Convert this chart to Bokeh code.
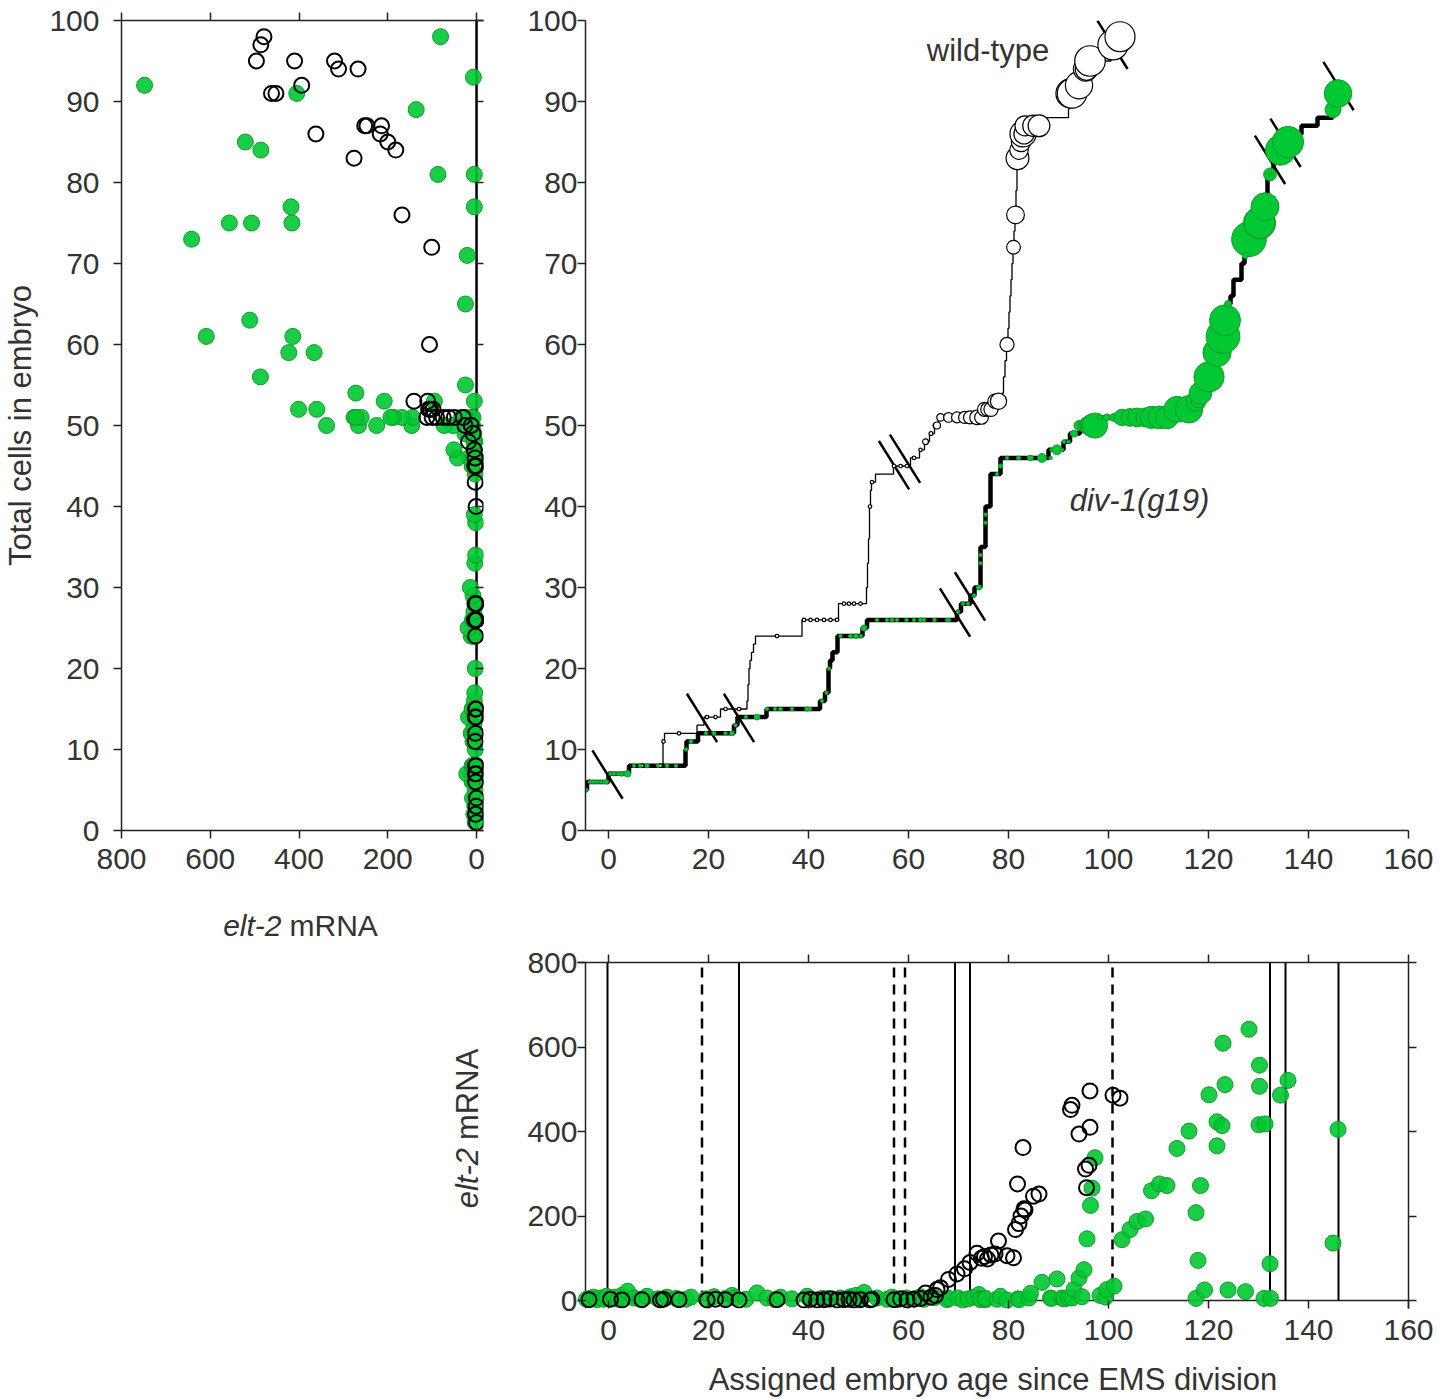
import math
import numpy as np
from bokeh.plotting import figure
from bokeh.models import Range1d, LinearAxis, FixedTicker, Span, Label, ColumnDataSource
from bokeh.layouts import row, column
from bokeh.embed import file_html
from bokeh.resources import INLINE

nan = float("nan")

# ---------------- data ----------------
# wild-type embryos: assigned age, total cells, elt-2 mRNA (nan age = not placed on time axis)
wt_age = [nan, nan, nan, nan, -3.9, 0.4, 2.7, 6.7, 10.4, 11.0, 14.1, 19.7, 21.4, 23.4, 26.1,
          33.7, 39.1, 40.4, 41.7, 43.1, 44.4, 45.7, 47.1, 48.1, 49.1, 50.4, 52.3, 52.7,
          57.1, 58.4, 59.7, 61.1, 62.4, 63.4, 64.5, 65.4, 65.7, 66.4, 68.0, 69.7, 71.2,
          72.3, 73.7, 74.6, 75.2, 75.8, 76.5, 77.3, 78.0, 79.7, 81.0, 81.4, 81.8, 82.1,
          82.5, 82.9, 83.1, 83.3, 85.0, 86.1, 92.4, 92.7, 94.1, 95.4, 95.6, 96.1, 96.3,
          96.3, 100.9, 102.3]
wt_cells = [1, 2, 3, 4, 6, 7, 7, 8, 8, 11, 12, 14, 14, 15, 15,
            24, 26, 26, 26, 26, 26, 26, 28, 28, 28, 28, 40, 43,
            45, 45, 45, 46, 47, 48, 49, 50, 50, 51, 51, 51, 51,
            51, 51, 51, 52, 52, 52, 53, 53, 60, 72, 76, 83, 84,
            85, 86, 86, 87, 87, 87, 91, 91, 92, 94, 94, 95, 95,
            95, 97, 98]
wt_mrna = [0, 2, 1, 0, 2, 3, 1, 2, 1, 3, 2, 1, 3, 2, 1,
           2, 1, 3, 1, 2, 4, 1, 2, 3, 1, 2, 1, 3,
           2, 4, 1, 3, 5, 18, 8, 12, 26, 30, 50, 63, 75,
           90, 112, 100, 104, 98, 108, 110, 141, 106, 101, 168, 276, 182,
           200, 362, 217, 214, 247, 252, 452, 462, 394, 311, 267, 320, 410,
           496, 486, 479]

# div-1(g19) embryos
dv_age = [nan, nan, nan, nan, nan, nan, -4.4, -3.6, -3.0, -2.3, -1.6, -0.9, -0.4, 0.4, 1.1,
          1.9, 2.6, 3.2, 3.8, 5.1, 6.3, 7.7, 9.9, 11.7, 13.5, 15.5, 16.5, 19.5, 21.1,
          23.4, 24.7, 25.4, 27.5, 29.7, 31.7, 33.3, 34.4, 36.7, 39.7, 40.3, 42.7, 43.6,
          44.1, 46.4, 48.4, 49.5, 50.5, 51.1, 53.7, 55.7, 56.7, 57.7, 59.6, 61.1, 62.4,
          63.1, 65.2, 67.7, 68.1, 69.9, 70.9, 71.9, 73.1, 74.1, 74.4, 74.4, 75.4, 75.4,
          77.7, 78.4, 79.7, 81.9, 82.1, 84.1, 84.4, 86.7, 88.4, 88.6, 89.7, 90.7, 91.1,
          92.0, 92.7, 93.1, 94.1, 94.7, 95.1, 95.7, 96.4, 96.7, 97.3, 98.3, 99.4, 99.7,
          101.1, 102.7, 104.3, 105.7, 107.4, 108.6, 110.2, 111.7, 113.7, 116.1, 117.5,
          117.5, 117.9, 118.4, 119.2, 120.1, 121.7, 121.7, 122.7, 122.9, 123.3, 123.9,
          128.1, 127.4, 130.1, 130.2, 130.2, 131.1, 131.3, 132.3, 132.4, 134.4, 135.9,
          144.9, 145.9, nan, nan, nan]
dv_cells = [1, 2, 2, 3, 4, 4, 5, 6, 6, 6, 6, 6, 6, 7, 7,
            7, 7, 7, 7, 8, 8, 8, 8, 8, 8, 10, 11, 12, 12,
            12, 12, 13, 14, 14, 15, 15, 15, 15, 15, 15, 16, 17,
            20, 24, 24, 24, 24, 25, 26, 26, 26, 26, 26, 26, 26,
            26, 26, 26, 26, 27, 28, 28, 29, 30, 33, 34, 38, 39,
            44, 45, 46, 46, 46, 46, 46, 46, 46, 47, 47, 47, 48,
            48, 49, 49, 50, 50, 50, 50, 50, 50, 50, 51, 51, 51,
            51, 51, 51, 51, 51, 51, 51, 51, 52, 52, 53,
            53, 53, 54, 55, 56, 59, 59, 61, 61, 63, 65,
            73, 71, 75, 75, 75, 77, 77, 81, 81, 84, 85,
            89, 91, 98, 93, 92]
dv_mrna = [3, 6, 1, 4, 9, 2, 3, 5, 8, 2, 6, 3, 10, 4, 8,
           3, 12, 5, 22, 6, 3, 10, 4, 8, 5, 3, 8, 4, 9,
           5, 12, 6, 3, 18, 6, 2, 8, 4, 10, 3, 5, 4,
           3, 6, 9, 12, 5, 19, 6, 3, 8, 2, 6, 4, 9,
           3, 7, 2, 5, 6, 1, 4, 8, 14, 4, 2, 2, 5,
           3, 10, 1, 4, 2, 6, 17, 43, 6, 5, 51, 6, 4,
           6, 6, 26, 53, 9, 73, 146, 225, 266, 338, 12, 8, 26,
           34, 144, 168, 187, 193, 260, 276, 272, 360, 401, 5,
           208, 95, 272, 25, 487, 366, 423, 414, 609, 511, 25,
           642, 21, 416, 557, 507, 5, 418, 87, 5, 486, 521,
           136, 405, 81, 7, 748]

# lineage cell-count timelines (age at which count changes, new count)
wt_step_age = [-4.6, -4.3, 0.0, 4.1, 10.9, 11.2, 17.7, 19.1, 22.4, 27.7, 27.9, 28.1, 28.3,
               28.6, 29.0, 29.4, 38.7, 46.0, 51.6, 51.8, 52.0, 52.2, 52.4, 52.6, 53.4,
               57.0, 60.4, 62.2, 63.2, 64.2, 65.2, 65.9, 75.0, 76.8, 78.7, 79.0, 79.3,
               79.6, 79.9, 80.1, 80.3, 80.5, 80.7, 80.9, 81.1, 81.3, 81.5, 81.7, 82.0,
               82.4, 82.8, 83.2, 86.5, 92.0, 92.1, 92.2, 94.0, 94.8, 95.2, 95.9, 100.5,
               100.8, 101.5, 103.0]
wt_step_cells = [5, 6, 7, 8, 11, 12, 13, 14, 15, 16, 18, 20, 21,
                 22, 23, 24, 26, 28, 30, 33, 36, 40, 42, 43, 44,
                 45, 46, 47, 48, 49, 50, 51, 52, 53, 54, 56, 58,
                 60, 62, 64, 66, 68, 70, 72, 74, 76, 79, 83, 84,
                 85, 86, 87, 88, 89, 90, 91, 92, 93, 94, 95, 96,
                 97, 98, 98]
dv_step_age = [-4.6, -4.3, 0.0, 4.1, 15.4, 15.6, 17.9, 25.1, 25.8, 31.6, 42.3, 43.3, 44.0,
               44.3, 44.8, 45.8, 50.8, 51.7, 69.7, 70.5, 72.4, 73.2, 74.4, 75.4, 76.4,
               78.4, 88.0, 91.0, 92.3, 94.3, 97.8, 113.0, 117.0, 118.0, 119.0, 119.7,
               120.8, 121.5, 122.4, 123.0, 123.6, 124.4, 125.0, 126.6, 127.2, 127.6,
               129.6, 130.8, 131.8, 133.0, 133.8, 135.2, 136.5, 138.6, 141.8, 144.8,
               145.5, 146.2]
dv_step_cells = [5, 6, 7, 8, 10, 11, 12, 13, 14, 15, 16, 17, 20,
                 21, 22, 24, 25, 26, 27, 28, 29, 30, 35, 40, 44,
                 46, 47, 48, 49, 50, 51, 52, 53, 54, 55, 56,
                 58, 59, 61, 63, 65, 66, 68, 70, 71, 73,
                 75, 77, 81, 83, 84, 85, 86, 87, 88, 89,
                 91, 91]

# lineage breaks (age, cell count on timeline)
wt_break_age = [18.7, 57.1, 59.3, 100.8]
wt_break_cells = [13.9, 45.1, 45.9, 97.0]
dv_break_age = [-0.2, 26.1, 69.3, 72.3, 132.3, 135.4, 146.0]
dv_break_cells = [6.9, 13.9, 26.9, 28.9, 82.8, 84.9, 91.9]

# ticks
cells_ticks = [0, 10, 20, 30, 40, 50, 60, 70, 80, 90, 100]
mrna_ticks_h = [800, 600, 400, 200, 0]
age_ticks = [0, 20, 40, 60, 80, 100, 120, 140, 160]
mrna_ticks_v = [0, 200, 400, 600, 800]

# ---------------- style ----------------
FONT = "Liberation Sans"
TXT = "#333333"
AX = "#222222"
GREEN = "#00c832"
GREEN_EDGE = "#16992c"

wt = ColumnDataSource(dict(age=wt_age, cells=wt_cells, mrna=wt_mrna,
                           size=np.maximum(3.5, 1.37 * np.sqrt(np.array(wt_mrna, float)))))
dv = ColumnDataSource(dict(age=dv_age, cells=dv_cells, mrna=dv_mrna,
                           size=np.maximum(3.5, 1.37 * np.sqrt(np.array(dv_mrna, float)))))


def style_axis(ax, ticks, labels=True, tick_in=0, tick_out=8, standoff=10, line=True):
    ax.ticker = FixedTicker(ticks=ticks)
    ax.minor_tick_line_color = None
    ax.major_tick_in = tick_in
    ax.major_tick_out = tick_out
    ax.major_tick_line_color = AX
    ax.major_tick_line_width = 1.5
    ax.axis_line_color = AX if line else None
    ax.axis_line_width = 1.5
    ax.axis_label_text_font = FONT
    ax.axis_label_text_font_size = "31px"
    ax.axis_label_text_font_style = "normal"
    ax.axis_label_text_color = TXT
    if labels:
        ax.major_label_standoff = standoff
        ax.major_label_text_font = FONT
        ax.major_label_text_font_size = "30px"
        ax.major_label_text_color = TXT
    else:
        ax.major_label_standoff = 0
        ax.major_label_text_font_size = "0px"
        ax.major_label_text_color = None


def base_fig(**kw):
    p = figure(output_backend="svg", toolbar_location=None, **kw)
    p.outline_line_color = None
    p.grid.visible = False
    p.background_fill_color = "white"
    p.border_fill_color = "white"
    return p


def text_fig(**kw):
    p = figure(output_backend="svg", toolbar_location=None, x_axis_type=None,
               y_axis_type=None, **kw)
    p.outline_line_color = None
    p.grid.visible = False
    return p


def label(p, text, x, y, angle=0.0, align="center", italic=False, size="31px"):
    p.add_layout(Label(x=x, y=y, text=text, angle=angle, text_align=align,
                       text_baseline="middle", text_font=FONT, text_font_size=size,
                       text_color=TXT, text_font_style="italic" if italic else "normal"))


# ---------------- panel A: cells vs mRNA ----------------
pA = base_fig(width=506, height=886, x_range=Range1d(800, -15.7), y_range=Range1d(0, 100),
              min_border_left=120, min_border_right=23, min_border_top=20, min_border_bottom=56)
style_axis(pA.xaxis[0], mrna_ticks_h, standoff=10)
style_axis(pA.yaxis[0], cells_ticks, standoff=14)
pA.yaxis[0].axis_label = "Total cells in embryo"
pA.yaxis[0].axis_label_standoff = 8
topA = LinearAxis()
pA.add_layout(topA, "above")
style_axis(topA, mrna_ticks_h, labels=False)
rightA = LinearAxis()
pA.add_layout(rightA, "right")
style_axis(rightA, cells_ticks, labels=False, tick_in=8, tick_out=0, line=False)
pA.add_layout(Span(location=0, dimension="height", line_color="black", line_width=2.5, level="underlay"))
pA.scatter("mrna", "cells", source=dv, size=16, fill_color=GREEN, fill_alpha=0.9,
           line_color=GREEN_EDGE, line_width=1)
pA.scatter("mrna", "cells", source=wt, size=15, fill_color=None, line_color="black", line_width=2)

# ---------------- panel B: cells vs age ----------------
pB = base_fig(width=932, height=886, x_range=Range1d(-4.6, 160), y_range=Range1d(0, 100),
              min_border_left=79, min_border_right=30, min_border_top=20, min_border_bottom=56)
style_axis(pB.xaxis[0], age_ticks, standoff=10)
style_axis(pB.yaxis[0], cells_ticks, standoff=0)
pB.step(wt_step_age, wt_step_cells, mode="after", line_color="black", line_width=1.3)
pB.step(dv_step_age, dv_step_cells, mode="after", line_color="black", line_width=4.5)
slash_angle = -math.radians(58)
pB.scatter(wt_break_age, wt_break_cells, marker="dash", size=57, angle=slash_angle,
           line_color="black", line_width=2.5)
pB.scatter(dv_break_age, dv_break_cells, marker="dash", size=57, angle=slash_angle,
           line_color="black", line_width=2.5)
pB.scatter("age", "cells", source=wt, size="size", fill_color="white", line_color="black",
           line_width=1.2)
pB.scatter("age", "cells", source=dv, size="size", fill_color=GREEN, line_color=GREEN_EDGE,
           line_width=1)
label(pB, "wild-type", 75.9, 96.3)
label(pB, "div-1(g19)", 106.2, 40.7, italic=True)

# ---------------- strip with the x-axis title of panel A (pixel units) ----------------
pS = text_fig(width=1438, height=58, x_range=Range1d(0, 1438), y_range=Range1d(0, 58),
              min_border_left=0, min_border_right=0, min_border_top=0, min_border_bottom=0)
label(pS, "elt-2", 281, 19, align="right", italic=True, size="30px")
label(pS, "mRNA", 289, 19, align="left", size="30px")

# ---------------- panel C: mRNA vs age ----------------
pC = base_fig(width=948, height=455, x_range=Range1d(-6.2, 160), y_range=Range1d(-18.9, 800),
              min_border_left=87, min_border_right=30, min_border_top=18, min_border_bottom=90)
style_axis(pC.xaxis[0], age_ticks, tick_in=8, tick_out=0, standoff=11, line=False)
pC.xaxis[0].axis_label = "Assigned embryo age since EMS division"
pC.xaxis[0].axis_label_standoff = 19
style_axis(pC.yaxis[0], mrna_ticks_v, tick_in=8, tick_out=0, standoff=0, line=False)
topC = LinearAxis()
pC.add_layout(topC, "above")
style_axis(topC, age_ticks, labels=False)
rightC = LinearAxis()
pC.add_layout(rightC, "right")
style_axis(rightC, mrna_ticks_v, labels=False)
pC.add_layout(Span(location=0, dimension="width", line_color=AX, line_width=1.5, level="underlay"))
pC.add_layout(Span(location=-4.6, dimension="height", line_color=AX, line_width=1.5, level="underlay"))
pC.segment(x0=dv_break_age, y0=[mrna_ticks_v[0]] * len(dv_break_age),
           x1=dv_break_age, y1=[mrna_ticks_v[-1]] * len(dv_break_age),
           line_color="black", line_width=2)
pC.segment(x0=wt_break_age, y0=[mrna_ticks_v[0]] * len(wt_break_age),
           x1=wt_break_age, y1=[mrna_ticks_v[-1]] * len(wt_break_age),
           line_color="black", line_width=2.5, line_dash="10 7")
pC.scatter("age", "mrna", source=dv, size=16, fill_color=GREEN, fill_alpha=0.9,
           line_color=GREEN_EDGE, line_width=1)
pC.scatter("age", "mrna", source=wt, size=15, fill_color=None, line_color="black", line_width=2)

# ---------------- rotated y-axis title of panel C (frame shares panel C's mRNA scale) ----------------
pL = text_fig(width=490, height=455, x_range=Range1d(0, 490), y_range=Range1d(-18.9, 800),
              min_border_left=0, min_border_right=0, min_border_top=18, min_border_bottom=90)
label(pL, "elt-2", 467, 361, angle=math.pi / 2, align="right", italic=True)
label(pL, "mRNA", 467, 380, angle=math.pi / 2, align="left")

layout = column(row(pA, pB), pS, row(pL, pC))
open("out.html", "w").write(file_html(layout, INLINE))
